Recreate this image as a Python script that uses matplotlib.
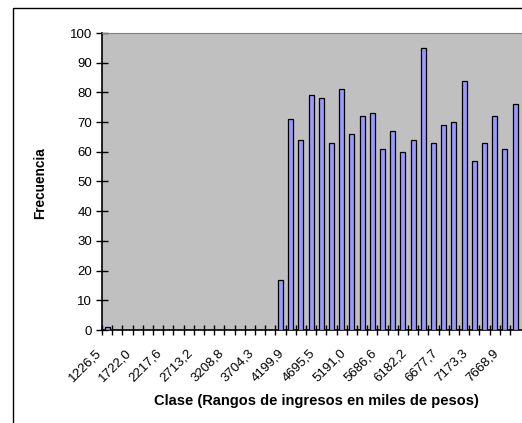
import matplotlib
matplotlib.use("Agg")
from matplotlib import pyplot as plt
from matplotlib.patches import Rectangle
from matplotlib.transforms import ScaledTranslation
import numpy as np

plt.rcParams['font.family'] = ['Liberation Sans', 'DejaVu Sans']

# frecuencias por clase (41 clases visibles)
frecuencias = [1, 0, 0, 0, 0, 0, 0, 0, 0, 0, 0, 0, 0, 0, 0, 0, 0, 17,
               71, 64, 79, 78, 63, 81, 66, 72, 73, 61, 67, 60, 64, 95,
               63, 69, 70, 84, 57, 63, 72, 61, 76]
etiquetas = ["1226,5", "1722,0", "2217,6", "2713,2", "3208,8", "3704,3",
             "4199,9", "4695,5", "5191,0", "5686,6", "6182,2", "6677,7",
             "7173,3", "7668,9"]
paso_etiqueta = 3
titulo = "Histograma de los ingresos mensuales (miles de pesos)"

W, H = 522, 423
fig = plt.figure(figsize=(W / 100, H / 100), dpi=100)

# marco exterior del grafico
fig.patches.append(Rectangle((13 / W, -0.1), 1.2, (H - 8) / H + 0.1,
                             transform=fig.transFigure, fill=False,
                             edgecolor='black', linewidth=1.0))
fig.text(106 / W, (H + 2.5) / H, titulo, color='#3333CC', fontsize=11,
         ha='left', va='baseline')

ax = fig.add_axes([102 / W, (H - 330) / H, 420 / W, 297 / H])
ax.set_facecolor('#C0C0C0')

x = np.arange(len(frecuencias))
ax.bar(x, frecuencias, width=0.5, color='#9999FF', edgecolor='black',
       linewidth=0.9, zorder=3)

ax.set_xlim(-0.5, -0.5 + 420 / 10.2)
ax.set_ylim(0, 100)
ax.set_yticks(range(0, 101, 10))
ax.tick_params(axis='y', direction='inout', length=8, width=1, labelsize=9.5, pad=3)

ax.set_xticks(np.arange(len(frecuencias)) - 0.5, minor=True)
ax.set_xticks(x[::paso_etiqueta][:len(etiquetas)])
ax.set_xticklabels(etiquetas, rotation=45, ha='right', va='center',
                   rotation_mode='anchor', fontsize=9.5)
ax.tick_params(axis='x', which='major', length=0, pad=15)
ax.tick_params(axis='x', which='minor', direction='inout', length=7, width=1)
off = ScaledTranslation(-8 / 100, 0, fig.dpi_scale_trans)
for lab in ax.get_xticklabels():
    lab.set_transform(lab.get_transform() + off)

for s in ['left', 'bottom']:
    ax.spines[s].set_linewidth(1.2)
ax.spines['top'].set_color('#808080')
ax.spines['right'].set_visible(False)

fig.text(40 / W, 1 - 183 / H, "Frecuencia", rotation=90, fontsize=9.8,
         fontweight='bold', ha='center', va='center')
fig.text(316 / W, 1 - 401 / H, "Clase (Rangos de ingresos en miles de pesos)",
         fontsize=10.5, fontweight='bold', ha='center', va='center')

fig.savefig("out.png", dpi=100)
